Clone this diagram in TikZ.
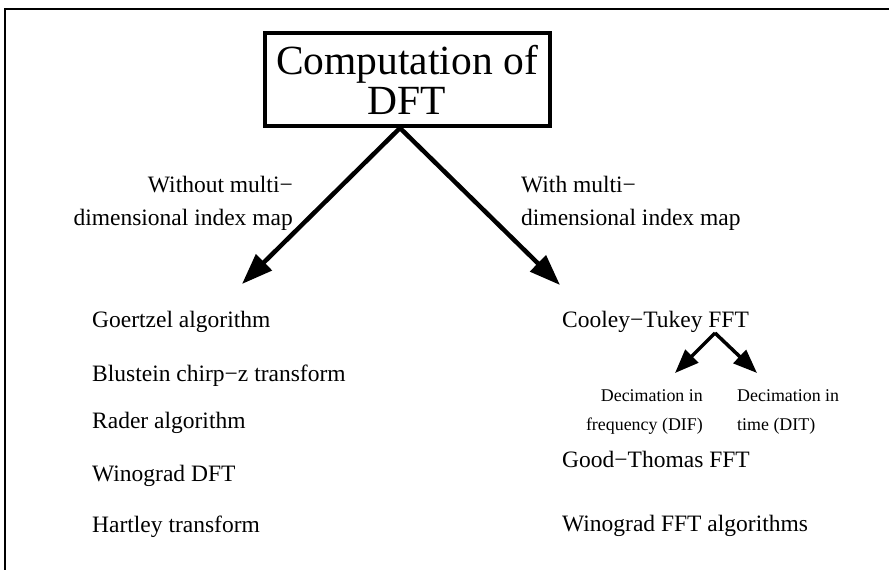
\documentclass[tikz,border=0pt]{standalone}
\usepackage{fontspec}
\setmainfont{Liberation Serif}
\usetikzlibrary{arrows.meta}
\newcommand{\dftTitleFont}{\fontsize{41.5}{40}\selectfont}
\newcommand{\dftItemFont}{\fontsize{23.5}{33}\selectfont}
\newcommand{\dftSmallFont}{\fontsize{17.9}{29}\selectfont}
\tikzset{
  algo/.style={anchor=base west, inner sep=0pt, font=\dftItemFont},
  branchnote/.style={inner sep=0pt, font=\dftItemFont},
  splitnote/.style={inner sep=0pt, font=\dftSmallFont},
  bigarrow/.style={line width=4.5pt, -{Triangle[length=31pt, width=22pt]}},
  smallarrow/.style={line width=3.5pt, -{Triangle[length=24pt, width=18pt]}},
}

\begin{document}
\begin{tikzpicture}[x=1pt, y=-1pt]
  \useasboundingbox (0,0) rectangle (889,570);

  % page frame (only top and left sides show)
  \draw[line width=2.5pt] (5,570) -- (5,9) -- (889,9);

  % root
  \node[draw, line width=4pt, minimum width=285pt, minimum height=93pt,
        inner sep=0pt, align=center, font=\dftTitleFont] (root) at (407,79.5)
    {Computation of\\DFT};

  \coordinate (lefttip) at (242,284);
  \coordinate (righttip) at (560,285);
  \draw[bigarrow] ([xshift=-7pt]root.south) -- (lefttip);
  \draw[bigarrow] ([xshift=-7pt]root.south) -- (righttip);

  \node[branchnote, anchor=north east, align=right] (nomap) at (293,176)
    {Without multi−\\dimensional index map};
  \node[branchnote, anchor=north west, align=left] (withmap) at (521,176)
    {With multi−\\dimensional index map};

  % without index map
  \node[algo] (goertzel) at (92,327) {Goertzel algorithm};
  \node[algo] (blustein) at (92,381) {Blustein chirp−z transform};
  \node[algo] (rader)    at (92,428) {Rader algorithm};
  \node[algo] (winodft)  at (92,481) {Winograd DFT};
  \node[algo] (hartley)  at (92,532) {Hartley transform};

  % with index map
  \node[algo] (cooley)   at (562,327) {Cooley−Tukey FFT};
  \node[algo] (goodtho)  at (562,467) {Good−Thomas FFT};
  \node[algo] (winofft)  at (562,531) {Winograd FFT algorithms};

  \coordinate (ctsplit) at (715,333);
  \coordinate (diftip) at (675,373);
  \coordinate (dittip) at (757,373);
  \draw[smallarrow] (ctsplit) -- (diftip);
  \draw[smallarrow] (ctsplit) -- (dittip);

  \node[splitnote, anchor=north east, align=right] (dif) at (703,389)
    {Decimation in\\frequency (DIF)};
  \node[splitnote, anchor=north west, align=left] (dit) at (737,389)
    {Decimation in\\time (DIT)};
\end{tikzpicture}
\end{document}
